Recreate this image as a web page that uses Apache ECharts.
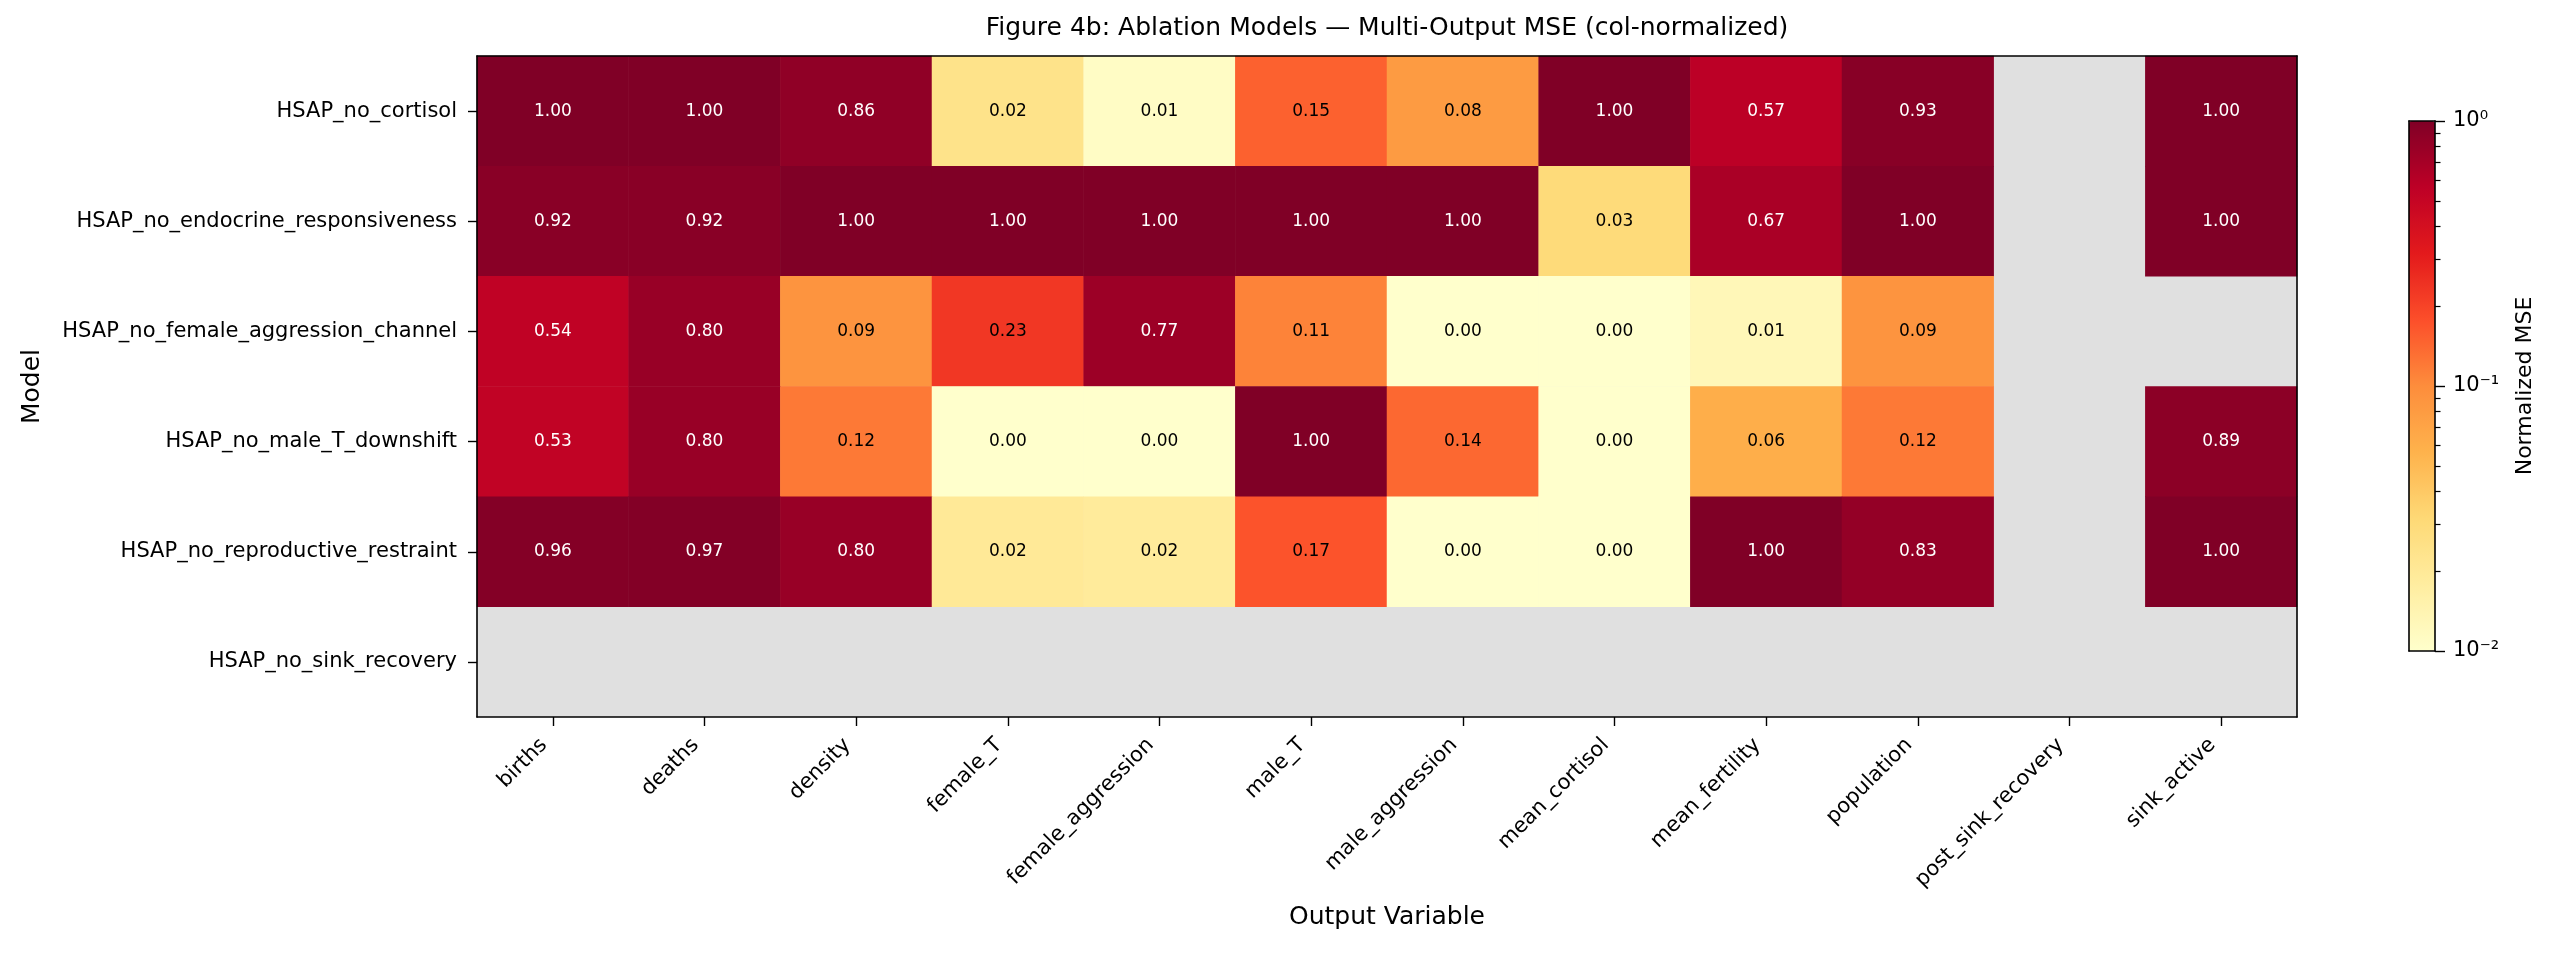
<!DOCTYPE html>
<html>
<head>
<meta charset="utf-8">
<script src="https://cdn.jsdelivr.net/npm/echarts@6/dist/echarts.min.js"></script>
<style>
  html, body { margin: 0; padding: 0; background: #fff; }
  #chart { width: 2560px; height: 953px; }
</style>
</head>
<body>
<div id="chart"></div>
<script>
// ---- data ----
const outputVars = ['births', 'deaths', 'density', 'female_T', 'female_aggression', 'male_T',
  'male_aggression', 'mean_cortisol', 'mean_fertility', 'population', 'post_sink_recovery', 'sink_active'];
const models = ['HSAP_no_cortisol', 'HSAP_no_endocrine_responsiveness', 'HSAP_no_female_aggression_channel',
  'HSAP_no_male_T_downshift', 'HSAP_no_reproductive_restraint', 'HSAP_no_sink_recovery'];
// normalized MSE per model (rows) and output variable (columns); null = missing
const rowNoCortisol   = [1.00, 1.00, 0.86, 0.024, 0.011, 0.15, 0.08, 1.00, 0.57, 0.93, null, 1.00];
const rowNoEndocrine  = [0.92, 0.92, 1.00, 1.00, 1.00, 1.00, 1.00, 0.03, 0.67, 1.00, null, 1.00];
const rowNoFemaleAgg  = [0.54, 0.80, 0.09, 0.23, 0.77, 0.11, 0.002, 0.002, 0.013, 0.09, null, null];
const rowNoMaleT      = [0.53, 0.80, 0.12, 0.002, 0.002, 1.00, 0.14, 0.002, 0.06, 0.12, null, 0.89];
const rowNoRepro      = [0.96, 0.97, 0.80, 0.020, 0.019, 0.17, 0.002, 0.002, 1.00, 0.83, null, 1.00];
const rowNoSink       = [null, null, null, null, null, null, null, null, null, null, null, null];
const mseRows = [rowNoCortisol, rowNoEndocrine, rowNoFemaleAgg, rowNoMaleT, rowNoRepro, rowNoSink];
// colorbar
const cbarRange = [0.01, 1];
const cbarMinorTicks = [0.02, 0.03, 0.04, 0.05, 0.06, 0.07, 0.08, 0.09, 0.2, 0.3, 0.4, 0.5, 0.6, 0.7, 0.8, 0.9];
const ylOrRd = ['#ffffcc', '#ffeda0', '#fed976', '#feb24c', '#fd8d3c', '#fc4e2a', '#e31a1c', '#bd0026', '#800026'];

// ---- build ----
const logMin = Math.log10(cbarRange[0]);
const logMax = Math.log10(cbarRange[1]);
const cells = [];
mseRows.forEach((row, r) => {
  row.forEach((v, c) => {
    if (v == null) return;
    const lv = Math.min(logMax, Math.max(logMin, Math.log10(v)));
    cells.push({ value: [c, r, v, lv], label: { color: v > 0.5 ? '#ffffff' : '#000000' } });
  });
});
const supMap = { '-': '\u207B', '0': '\u2070', '1': '\u00B9', '2': '\u00B2', '3': '\u00B3' };
const supFmt = v => '10' + String(Math.round(v)).split('').map(ch => supMap[ch]).join('');

const FONT = 'DejaVu Sans';
const blackLine = { show: true, onZero: false, lineStyle: { color: '#000', width: 1.6 } };
const G0 = { left: 477, top: 56, width: 1820, height: 661 };
const G1 = { left: 2409, top: 121, width: 26, height: 530 };

const chart = echarts.init(document.getElementById('chart'), null, { renderer: 'canvas' });
chart.setOption({
  animation: false,
  backgroundColor: '#ffffff',
  textStyle: { fontFamily: FONT },
  title: {
    text: 'Figure 4b: Ablation Models \u2014 Multi-Output MSE (col-normalized)',
    left: G0.left + G0.width / 2, top: 16, textAlign: 'center', padding: 0,
    textStyle: { fontFamily: FONT, fontSize: 25, fontWeight: 'normal', color: '#000' }
  },
  grid: [
    Object.assign({ show: true, backgroundColor: '#e0e0e0', borderWidth: 0 }, G0),
    Object.assign({ show: false }, G1)
  ],
  xAxis: [
    {
      gridIndex: 0, type: 'category', data: outputVars, position: 'bottom', z: 5,
      axisLine: blackLine,
      axisTick: { show: true, alignWithLabel: true, length: 9, lineStyle: { color: '#000', width: 1.4 } },
      axisLabel: { rotate: 45, interval: 0, fontSize: 21, color: '#000', fontFamily: FONT, margin: 16, padding: [0, 12.5, 0, 0] },
      splitLine: { show: false },
      name: 'Output Variable', nameLocation: 'middle', nameGap: 188,
      nameTextStyle: { fontSize: 25, color: '#000', fontFamily: FONT }
    },
    { gridIndex: 0, type: 'category', data: outputVars, position: 'top', z: 5, axisLine: blackLine,
      axisTick: { show: false }, axisLabel: { show: false }, splitLine: { show: false } },
    { gridIndex: 1, type: 'category', data: [''], position: 'bottom', z: 5, axisLine: blackLine,
      axisTick: { show: false }, axisLabel: { show: false }, splitLine: { show: false } },
    { gridIndex: 1, type: 'category', data: [''], position: 'top', z: 5, axisLine: blackLine,
      axisTick: { show: false }, axisLabel: { show: false }, splitLine: { show: false } }
  ],
  yAxis: [
    {
      gridIndex: 0, type: 'category', data: models, inverse: true, position: 'left', z: 5,
      axisLine: blackLine,
      axisTick: { show: true, alignWithLabel: true, length: 9, lineStyle: { color: '#000', width: 1.4 } },
      axisLabel: { fontSize: 21, color: '#000', fontFamily: FONT, margin: 20, interval: 0 },
      splitLine: { show: false },
      name: 'Model', nameLocation: 'middle', nameGap: 432, nameRotate: 90,
      nameTextStyle: { fontSize: 25, color: '#000', fontFamily: FONT }
    },
    { gridIndex: 0, type: 'category', data: models, inverse: true, position: 'right', z: 5, axisLine: blackLine,
      axisTick: { show: false }, axisLabel: { show: false }, splitLine: { show: false } },
    { gridIndex: 1, type: 'value', min: logMin, max: logMax, position: 'left', z: 5, axisLine: blackLine,
      axisTick: { show: false }, axisLabel: { show: false }, splitLine: { show: false } },
    {
      gridIndex: 1, type: 'value', min: logMin, max: logMax, interval: 1, position: 'right', z: 5,
      axisLine: blackLine,
      axisTick: { show: true, length: 10, lineStyle: { color: '#000', width: 1.4 } },
      axisLabel: { formatter: supFmt, fontSize: 21, color: '#000', fontFamily: FONT, margin: 18 },
      splitLine: { show: false },
      name: 'Normalized MSE', nameLocation: 'middle', nameGap: 79, nameRotate: 90,
      nameTextStyle: { fontSize: 22, color: '#000', fontFamily: FONT }
    },
    {
      gridIndex: 1, type: 'value', min: logMin, max: logMax, position: 'right', z: 5,
      axisLine: { show: false },
      axisTick: { show: true, length: 5.5, customValues: cbarMinorTicks.map(v => Math.log10(v)),
        lineStyle: { color: '#000', width: 1.2 } },
      axisLabel: { show: false }, splitLine: { show: false }
    }
  ],
  visualMap: {
    type: 'continuous', show: true, dimension: 3, seriesIndex: 0,
    min: logMin, max: logMax, calculable: false, hoverLink: false, realtime: false,
    orient: 'vertical', left: G1.left, top: G1.top, itemWidth: G1.width, itemHeight: G1.height,
    padding: 0, text: null, showLabel: false,
    inRange: { color: ylOrRd }
  },
  series: [{
    type: 'heatmap', xAxisIndex: 0, yAxisIndex: 0, data: cells,
    label: {
      show: true, fontSize: 17, fontFamily: FONT,
      formatter: p => p.value[2].toFixed(2)
    },
    itemStyle: { borderWidth: 0 },
    emphasis: { disabled: true }
  }]
});
</script>
</body>
</html>
